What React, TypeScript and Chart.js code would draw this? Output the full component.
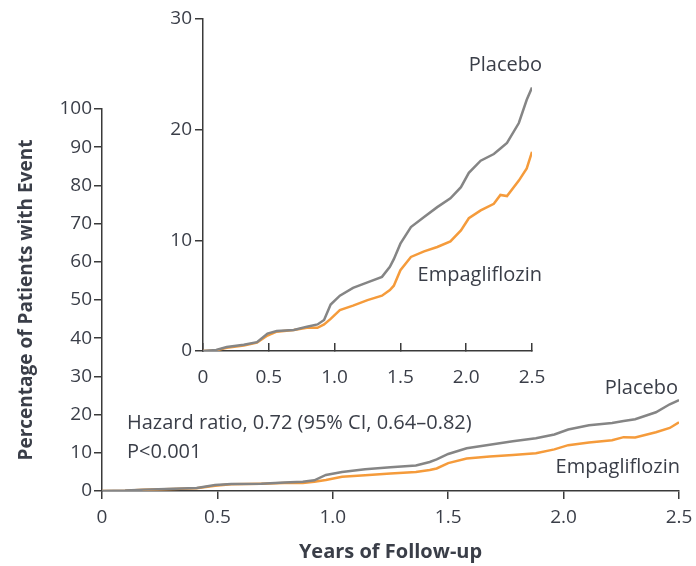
import React, { useEffect, useRef } from "react";
import { Chart, registerables } from "chart.js";
Chart.register(...registerables);

// Years of follow-up (x positions of the read-off points)
const years = [0, 0.1, 0.18, 0.31, 0.41, 0.49, 0.56, 0.69, 0.79, 0.87, 0.92, 0.97, 1.04, 1.14, 1.25, 1.36, 1.42, 1.45, 1.5, 1.58, 1.68, 1.78, 1.88, 1.96, 2.02, 2.11, 2.21, 2.26, 2.31, 2.4, 2.46, 2.5];
// Cumulative percentage of patients with event
const placebo = [0, 0.1, 0.36, 0.57, 0.8, 1.57, 1.8, 1.9, 2.2, 2.4, 2.8, 4.2, 5.0, 5.7, 6.2, 6.7, 7.6, 8.3, 9.7, 11.2, 12.1, 13.0, 13.8, 14.8, 16.1, 17.2, 17.8, 18.3, 18.8, 20.6, 22.7, 23.8];
const empagliflozin = [0, 0.05, 0.3, 0.5, 0.75, 1.4, 1.75, 1.9, 2.1, 2.1, 2.4, 2.9, 3.7, 4.1, 4.6, 5.0, 5.5, 5.9, 7.3, 8.5, 9.0, 9.4, 9.9, 10.9, 12.0, 12.7, 13.3, 14.1, 14.0, 15.4, 16.5, 18.0];

const xTicks = [0, 0.5, 1.0, 1.5, 2.0, 2.5];
const mainYTicks = [0, 10, 20, 30, 40, 50, 60, 70, 80, 90, 100];
const insetYTicks = [0, 10, 20, 30];

const seriesNames = ["Placebo", "Empagliflozin"];
const hazardText = "Hazard ratio, 0.72 (95% CI, 0.64\u20130.82)";
const pText = "P<0.001";
const xTitle = "Years of Follow-up";
const yTitle = "Percentage of Patients with Event";

const FONT = "'Open Sans', 'DejaVu Sans', sans-serif";
const TEXT = "#3a3e48";
const AXIS = "#3a3a3a";
const GRAY = "#858585";
const ORANGE = "#f59b3b";
const TICK_SIZE = 19;
const NOTE_SIZE = 20;

const toXY = (ys: number[]) => years.map((x, i) => ({ x, y: ys[i] }));

type Note = { text: string; x: number; y: number; align: CanvasTextAlign };

const notesPlugin = (notes: Note[]) => ({
  id: "notes",
  afterDraw(chart: any) {
    const ctx = chart.ctx;
    ctx.save();
    ctx.font = `${NOTE_SIZE}px ${FONT}`;
    ctx.fillStyle = TEXT;
    ctx.textBaseline = "middle";
    for (const n of notes) {
      ctx.textAlign = n.align;
      ctx.fillText(n.text, n.x, n.y);
    }
    ctx.restore();
  },
});

function datasets() {
  return [
    { label: seriesNames[0], data: toXY(placebo), borderColor: GRAY, borderWidth: 2.5, pointRadius: 0, tension: 0, fill: false },
    { label: seriesNames[1], data: toXY(empagliflozin), borderColor: ORANGE, borderWidth: 2.5, pointRadius: 0, tension: 0, fill: false },
  ];
}

const xFmt = (v: any) => (Number(v) === 0 ? "0" : Number(v).toFixed(1));

export default function App() {
  const mainRef = useRef<HTMLCanvasElement>(null);
  const insetRef = useRef<HTMLCanvasElement>(null);

  useEffect(() => {
    const main = new Chart(mainRef.current!, {
      type: "line",
      data: { datasets: datasets() as any },
      options: {
        animation: false,
        responsive: false,
        layout: { padding: { top: 109, right: 17, left: 0, bottom: 0 } },
        plugins: { legend: { display: false }, tooltip: { enabled: false } },
        scales: {
          x: {
            type: "linear",
            min: 0,
            max: 2.5,
            afterBuildTicks: (s: any) => { s.ticks = xTicks.map((v) => ({ value: v })); },
            afterFit: (s: any) => { s.height = 75; s.paddingLeft = 0; s.paddingRight = 0; },
            grid: { drawOnChartArea: false, drawTicks: true, tickLength: 8, color: AXIS, lineWidth: 1.5 },
            border: { display: true, color: AXIS, width: 1.5 },
            ticks: { callback: xFmt, font: { family: FONT, size: TICK_SIZE }, color: TEXT, padding: 7, maxRotation: 0, autoSkip: false },
            title: { display: true, text: xTitle, font: { family: FONT, size: 20, weight: "bold" }, color: TEXT, padding: { bottom: 2, top: 0 } },
          },
          y: {
            type: "linear",
            min: 0,
            max: 100,
            afterBuildTicks: (s: any) => { s.ticks = mainYTicks.map((v) => ({ value: v })); },
            afterFit: (s: any) => { s.width = 102; s.paddingTop = 0; s.paddingBottom = 0; },
            grid: { drawOnChartArea: false, drawTicks: true, tickLength: 8, color: AXIS, lineWidth: 1.5 },
            border: { display: true, color: AXIS, width: 1.5 },
            ticks: { font: { family: FONT, size: TICK_SIZE }, color: TEXT, padding: 2, autoSkip: false },
            title: { display: true, text: yTitle, font: { family: FONT, size: 19, weight: "bold" }, color: TEXT, padding: { top: 15, bottom: 0 } },
          },
        },
      },
      plugins: [
        notesPlugin([
          { text: hazardText, x: 127, y: 423, align: "left" },
          { text: pText, x: 127, y: 452, align: "left" },
          { text: seriesNames[0], x: 678, y: 388, align: "right" },
          { text: seriesNames[1], x: 680, y: 467, align: "right" },
        ]),
      ],
    } as any);

    const inset = new Chart(insetRef.current!, {
      type: "line",
      data: { datasets: datasets() as any },
      options: {
        animation: false,
        responsive: false,
        layout: { padding: { top: 19, right: 18, left: 0, bottom: 0 } },
        plugins: { legend: { display: false }, tooltip: { enabled: false } },
        scales: {
          x: {
            type: "linear",
            min: 0,
            max: 2.5,
            afterBuildTicks: (s: any) => { s.ticks = xTicks.map((v) => ({ value: v })); },
            afterFit: (s: any) => { s.height = 41; s.paddingLeft = 0; s.paddingRight = 0; },
            grid: { drawOnChartArea: false, drawTicks: true, tickLength: -8, color: AXIS, lineWidth: 1.5 },
            border: { display: true, color: AXIS, width: 1.5 },
            ticks: { callback: xFmt, font: { family: FONT, size: TICK_SIZE }, color: TEXT, padding: 23, maxRotation: 0, autoSkip: false },
          },
          y: {
            type: "linear",
            min: 0,
            max: 30,
            afterBuildTicks: (s: any) => { s.ticks = insetYTicks.map((v) => ({ value: v })); },
            afterFit: (s: any) => { s.width = 53; s.paddingTop = 0; s.paddingBottom = 0; },
            grid: { drawOnChartArea: false, drawTicks: true, tickLength: 8, color: AXIS, lineWidth: 1.5 },
            border: { display: true, color: AXIS, width: 1.5 },
            ticks: { font: { family: FONT, size: TICK_SIZE }, color: TEXT, padding: 3, autoSkip: false },
          },
        },
      },
      plugins: [
        notesPlugin([
          { text: seriesNames[0], x: 392, y: 65, align: "right" },
          { text: seriesNames[1], x: 392, y: 275, align: "right" },
        ]),
      ],
    } as any);

    return () => {
      main.destroy();
      inset.destroy();
    };
  }, []);

  return (
    <div style={{ position: "fixed", left: 0, top: 0, width: 696, height: 566, background: "#fff" }}>
      <canvas ref={mainRef} width={696} height={566} style={{ position: "absolute", left: 0, top: 0, width: 696, height: 566 }} />
      <canvas ref={insetRef} width={400} height={392} style={{ position: "absolute", left: 150, top: 0, width: 400, height: 392 }} />
    </div>
  );
}
